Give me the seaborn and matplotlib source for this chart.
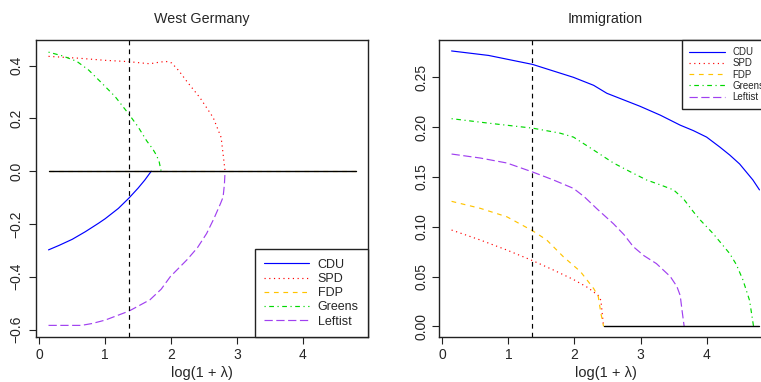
import numpy as np
import pandas as pd
import seaborn as sns
import matplotlib.pyplot as plt
from matplotlib.lines import Line2D

# -----------------------------
# DATA
# -----------------------------
parties = ["CDU", "SPD", "FDP", "Greens", "Leftist"]
colors = {"CDU": "#0000FF", "SPD": "#FF0000", "FDP": "#FFC400",
          "Greens": "#00D800", "Leftist": "#A040F0"}
dashes = {"CDU": "", "SPD": (1, 3), "FDP": (4, 4),
          "Greens": (1, 3, 4, 3), "Leftist": (7, 3)}

lam_cut = 1.36          # vertical dashed line

# West Germany
wg_cdu_x = [0.14, 0.3, 0.5, 0.7, 0.9, 1.0, 1.2, 1.36, 1.5, 1.6, 1.7]
wg_cdu_y = [-0.298, -0.281, -0.258, -0.229, -0.197, -0.180, -0.141, -0.102, -0.064, -0.034, 0.0]
wg_spd_x = [0.14, 0.6, 1.0, 1.36, 1.55, 1.68, 1.8, 1.92, 2.01, 2.12, 2.24, 2.44, 2.64, 2.76, 2.79, 2.82]
wg_spd_y = [0.435, 0.428, 0.42, 0.415, 0.41, 0.407, 0.412, 0.416, 0.41, 0.38, 0.34, 0.278, 0.203,
            0.128, 0.065, 0.0]
wg_fdp_x = [0.14, 4.8]
wg_fdp_y = [0.0, 0.0]
wg_grn_x = [0.14, 0.35, 0.57, 0.75, 0.92, 1.15, 1.36, 1.5, 1.63, 1.72, 1.78, 1.82, 1.85]
wg_grn_y = [0.451, 0.437, 0.416, 0.383, 0.341, 0.283, 0.216, 0.168, 0.115, 0.085, 0.06, 0.035, 0.0]
wg_lft_x = [0.14, 0.64, 0.8, 1.0, 1.36, 1.68, 1.85, 1.99, 2.24, 2.4, 2.54, 2.65, 2.75, 2.79, 2.81, 2.82]
wg_lft_y = [-0.584, -0.584, -0.577, -0.564, -0.53, -0.487, -0.447, -0.399, -0.336, -0.29, -0.236,
            -0.18, -0.123, -0.098, -0.05, 0.0]
wg_zero_x = [0.14, 4.8]

# Immigration
im_cdu_x = [0.14, 0.7, 1.365, 1.985, 2.29, 2.49, 2.99, 3.3, 3.6, 3.8, 4.0, 4.2, 4.35, 4.5, 4.6, 4.7, 4.8]
im_cdu_y = [0.2765, 0.272, 0.263, 0.25, 0.242, 0.234, 0.221, 0.212, 0.202, 0.1965, 0.19, 0.18,
            0.172, 0.163, 0.155, 0.147, 0.137]
im_spd_x = [0.14, 0.574, 0.977, 1.365, 1.68, 1.985, 2.2, 2.36, 2.40, 2.44]
im_spd_y = [0.0967, 0.0867, 0.0766, 0.066, 0.0566, 0.047, 0.039, 0.031, 0.026, 0.0]
im_fdp_x = [0.14, 0.574, 0.977, 1.365, 1.58, 1.83, 2.09, 2.29, 2.36, 2.40, 2.44]
im_fdp_y = [0.1255, 0.1185, 0.110, 0.096, 0.0867, 0.070, 0.055, 0.038, 0.030, 0.013, 0.0]
im_grn_x = [0.14, 0.7, 1.365, 1.78, 1.985, 2.29, 2.59, 2.85, 3.09, 3.3, 3.5, 3.65, 3.8, 3.9, 4.1,
            4.35, 4.45, 4.55, 4.65, 4.71]
im_grn_y = [0.2085, 0.204, 0.199, 0.194, 0.19, 0.177, 0.164, 0.155, 0.147, 0.142, 0.137, 0.128,
            0.115, 0.107, 0.093, 0.073, 0.062, 0.0465, 0.026, 0.0]
im_lft_x = [0.14, 0.574, 0.977, 1.365, 1.68, 1.985, 2.15, 2.34, 2.59, 2.75, 2.89, 3.05, 3.24, 3.45,
            3.55, 3.6, 3.63, 3.66]
im_lft_y = [0.173, 0.169, 0.164, 0.155, 0.147, 0.1385, 0.13, 0.118, 0.103, 0.092, 0.080, 0.071,
            0.063, 0.050, 0.04, 0.031, 0.015, 0.0]
im_zero_x = [2.44, 4.8]


def to_frame(series):
    rows = []
    for name, xs, ys in series:
        for x, y in zip(xs, ys):
            rows.append({"lam": x, "coef": y, "party": name})
    return pd.DataFrame(rows)


wg = to_frame([("CDU", wg_cdu_x, wg_cdu_y), ("SPD", wg_spd_x, wg_spd_y),
               ("FDP", wg_fdp_x, wg_fdp_y), ("Greens", wg_grn_x, wg_grn_y),
               ("Leftist", wg_lft_x, wg_lft_y)])
im = to_frame([("CDU", im_cdu_x, im_cdu_y), ("SPD", im_spd_x, im_spd_y),
               ("FDP", im_fdp_x, im_fdp_y), ("Greens", im_grn_x, im_grn_y),
               ("Leftist", im_lft_x, im_lft_y)])

# -----------------------------
# STYLE
# -----------------------------
sns.set_style("ticks")
plt.rcParams["font.family"] = ["Liberation Sans", "DejaVu Sans"]
plt.rcParams["axes.linewidth"] = 1.0
plt.rcParams["axes.edgecolor"] = "#222222"

fig = plt.figure(figsize=(7.61, 3.82), dpi=100)
ax1 = fig.add_axes([0.0473, 0.1178, 0.4363, 0.7775])
ax2 = fig.add_axes([0.5769, 0.1178, 0.4376, 0.7775])

LW = 0.85


def draw_panel(ax, df, zero_x, title, ylim, yticks, ytick_labels, ypad):
    sns.lineplot(data=df, x="lam", y="coef", hue="party", style="party",
                 hue_order=parties, style_order=parties,
                 palette=colors, dashes=dashes, estimator=None, sort=False,
                 linewidth=LW, legend=False, ax=ax)
    sns.lineplot(x=zero_x, y=[0.0, 0.0], color="black", linewidth=1.0, ax=ax)
    ax.axvline(lam_cut, color="black", linestyle=(0, (4, 3.5)), linewidth=LW)
    ax.set_xlim(-0.05, 4.99)
    ax.set_ylim(*ylim)
    ax.set_xticks([0, 1, 2, 3, 4])
    ax.set_yticks(yticks)
    ax.set_yticklabels(ytick_labels, rotation=90, va="center")
    ax.tick_params(axis="both", labelsize=10, length=5, width=0.8, color="#222222")
    ax.tick_params(axis="y", pad=ypad)
    ax.tick_params(axis="x", pad=3)
    ax.set_xlabel("log(1 + λ)", fontsize=10.5, labelpad=3)
    ax.set_ylabel("")
    ax.set_title(title, fontsize=10.3, pad=12)
    for s in ax.spines.values():
        s.set_visible(True)


draw_panel(ax1, wg, wg_zero_x, "West Germany", (-0.628, 0.497),
           [-0.6, -0.4, -0.2, 0.0, 0.2, 0.4],
           ["−0.6", "−0.4", "−0.2", "0.0", "0.2", "0.4"], 4)
draw_panel(ax2, im, im_zero_x, "Immigration", (-0.0107, 0.2875),
           [0.0, 0.05, 0.10, 0.15, 0.20, 0.25],
           ["0.00", "0.05", "0.10", "0.15", "0.20", "0.25"], 2.5)

handles = [Line2D([], [], color=colors[p], linewidth=LW,
                  linestyle="-" if dashes[p] == "" else (0, dashes[p]))
           for p in parties]

leg1 = ax1.legend(handles, parties, loc="lower right", fontsize=9,
                  frameon=True, fancybox=False, framealpha=1,
                  edgecolor="#222222", borderaxespad=0, handlelength=3.6,
                  handletextpad=0.7, labelspacing=0.18, borderpad=0.75)
leg1.get_frame().set_linewidth(1.0)
leg2 = ax2.legend(handles, parties, loc="upper right", fontsize=7,
                  frameon=True, fancybox=False, framealpha=1,
                  edgecolor="#222222", borderaxespad=0, handlelength=3.7,
                  labelspacing=0.12, borderpad=0.75)
leg2.get_frame().set_linewidth(1.0)

fig.savefig("out.png", dpi=100)
